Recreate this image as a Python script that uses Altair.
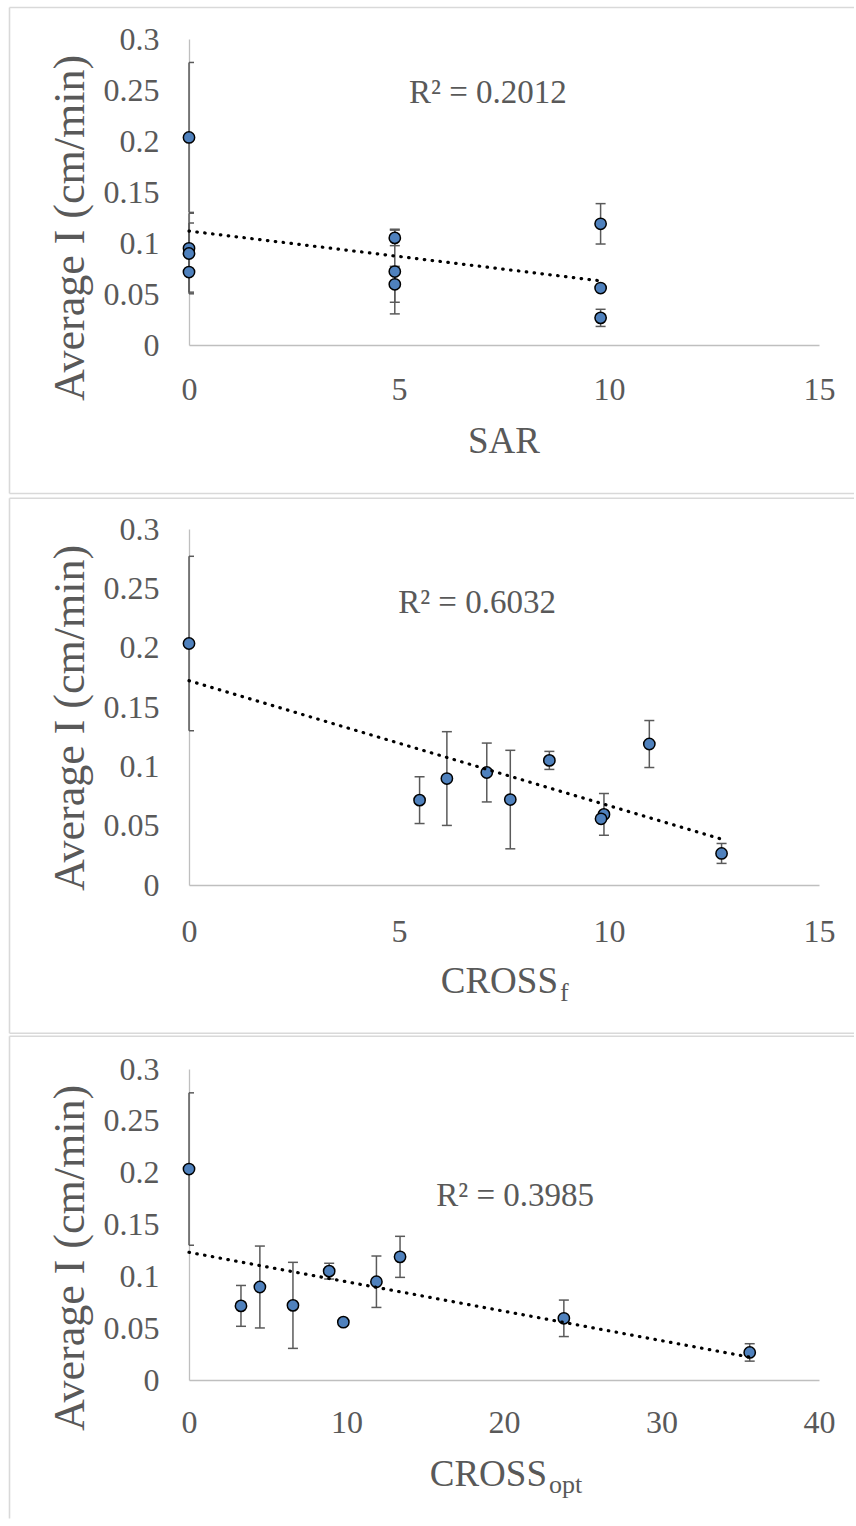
import altair as alt
import pandas as pd

# ---- data (10 samples) ----
intensity = [0.2035, 0.0948, 0.0897, 0.0715, 0.1050, 0.0720, 0.0595, 0.1188, 0.0558, 0.0266]
error = [0.0735, 0.0248, 0.0395, 0.0197, 0.0076, 0.0415, 0.0176, 0.0198, 0.0, 0.0084]
sar = [0, 0, 0, 0, 4.9, 4.9, 4.9, 9.8, 9.8, 9.8]
cross_f = [0, 7.09, 6.14, 5.49, 8.58, 7.65, 9.88, 10.96, 9.81, 12.68]
cross_opt = [0, 11.9, 4.5, 3.3, 8.9, 6.6, 23.8, 13.4, 9.8, 35.6]

r2_labels = ["R\u00b2 = 0.2012", "R\u00b2 = 0.6032", "R\u00b2 = 0.3985"]
r2_x = [5.24, 4.98, 15.7]
r2_y = [0.2373, 0.2292, 0.168]

x_title_main = ["SAR", "CROSS", "CROSS"]
x_title_sub = ["", "f", "opt"]
x_domains = [[0, 15], [0, 15], [0, 40]]
x_ticks = [[0, 5, 10, 15], [0, 5, 10, 15], [0, 10, 20, 30, 40]]
y_ticks = [0, 0.05, 0.1, 0.15, 0.2, 0.25, 0.3]
y_title = "Average I (cm/min)"

FONT = "Liberation Serif"
TXT = "#595959"
W = 630


def panel(i, xvals, h, xlabpad, box, tpos):
    df = pd.DataFrame({
        "x": xvals,
        "y": intensity,
        "lo": [v - e for v, e in zip(intensity, error)],
        "hi": [v + e for v, e in zip(intensity, error)],
    })
    xs = alt.Scale(domain=x_domains[i], nice=False, zero=False)
    ys = alt.Scale(domain=[0, 0.3], nice=False, zero=False)
    xax = alt.Axis(values=x_ticks[i], title="", grid=False, ticks=False, tickSize=0,
                   labelPadding=xlabpad, labelFlush=False, labelOverlap=False,
                   labelFont=FONT, labelFontSize=32, labelColor=TXT,
                   domainColor="#BFBFBF", domainWidth=1.3)
    yax = alt.Axis(values=y_ticks, format="~g", grid=False, ticks=False, tickSize=0,
                   labelPadding=30, labelFlush=False, labelOverlap=False,
                   labelFont=FONT, labelFontSize=32, labelColor=TXT,
                   domainColor="#BFBFBF", domainWidth=1.3,
                   title=y_title, titleFont=FONT, titleFontSize=44, titleColor=TXT,
                   titleFontWeight="normal", titleAngle=270, titleAlign="center",
                   titleBaseline="alphabetic", titleX=-106, titleY=188.5)

    def X(f):
        return alt.X(f, type="quantitative", scale=xs, axis=xax)

    def Y(f):
        return alt.Y(f, type="quantitative", scale=ys, axis=yax)

    base = alt.Chart(df)
    bars = base.mark_rule(color="#5A5A5A", strokeWidth=1.5).encode(
        x=X("x"), y=Y("lo"), y2="hi")
    cap_hi = base.mark_rule(color="#5A5A5A", strokeWidth=1.5, xOffset=-5, x2Offset=5,
                            clip=True).encode(x=X("x"), x2="x", y=Y("hi"))
    cap_lo = base.mark_rule(color="#5A5A5A", strokeWidth=1.5, xOffset=-5, x2Offset=5,
                            clip=True).encode(x=X("x"), x2="x", y=Y("lo"))
    pts = base.mark_circle(size=128, fill="#4F81BD", stroke="#000000", strokeWidth=1.5,
                           opacity=1, fillOpacity=1).encode(x=X("x"), y=Y("y"))
    trend = base.transform_regression("x", "y").mark_line(
        color="#000000", strokeWidth=3.2, strokeDash=[0.5, 7.4], strokeCap="round"
    ).encode(x=X("x"), y=Y("y"))

    rdf = pd.DataFrame({"x": [r2_x[i]], "y": [r2_y[i]], "t": [r2_labels[i]]})
    r2 = alt.Chart(rdf).mark_text(font=FONT, fontSize=33, color=TXT, align="left",
                                  baseline="alphabetic").encode(
        x=X("x"), y=Y("y"), text="t:N")

    one = alt.Data(values=[{"k": 1}])
    left, top, bottom, right = box
    border_col = "#D9D9D9"
    layers = []
    layers.append(alt.Chart(one).mark_rule(color=border_col, strokeWidth=1.6).encode(
        x=alt.value(left), y=alt.value(top), y2=alt.value(bottom)))
    layers.append(alt.Chart(one).mark_rule(color=border_col, strokeWidth=1.6).encode(
        x=alt.value(left), x2=alt.value(right), y=alt.value(top)))
    if i < 2:
        layers.append(alt.Chart(one).mark_rule(color=border_col, strokeWidth=1.6).encode(
            x=alt.value(left), x2=alt.value(right), y=alt.value(bottom)))

    tx, ty, sub_dy = tpos
    if x_title_sub[i]:
        layers.append(alt.Chart(one).mark_text(font=FONT, fontSize=37, color=TXT,
                                               align="right", baseline="alphabetic",
                                               text=x_title_main[i]).encode(
            x=alt.value(tx), y=alt.value(ty)))
        layers.append(alt.Chart(one).mark_text(font=FONT, fontSize=26, color=TXT,
                                               align="left", baseline="alphabetic",
                                               text=x_title_sub[i]).encode(
            x=alt.value(tx + 2), y=alt.value(ty + sub_dy)))
    else:
        layers.append(alt.Chart(one).mark_text(font=FONT, fontSize=37, color=TXT,
                                               align="center", baseline="alphabetic",
                                               text=x_title_main[i]).encode(
            x=alt.value(tx), y=alt.value(ty)))

    return alt.layer(*layers, bars, cap_hi, cap_lo, pts, trend, r2).properties(
        width=W, height=h)


p1 = panel(0, sar, 306, 29, (-179.5, -31.5, 454.5, 665), (315, 413.75, 0))
p2 = panel(1, cross_f, 356, 31, (-179.5, -30.75, 504.25, 665), (369, 463.5, 8))
p3 = panel(2, cross_opt, 311, 27, (-179.5, -32.75, 449.5, 665), (358, 416.75, 7))

chart = alt.vconcat(p1, p2, p3, spacing=184, bounds="flush").properties(
    padding={"left": 8, "top": 6, "right": 0, "bottom": 0},
    background="white",
).configure_view(stroke="transparent")

chart.save("out.html", embed_options={"renderer": "svg", "actions": False})
